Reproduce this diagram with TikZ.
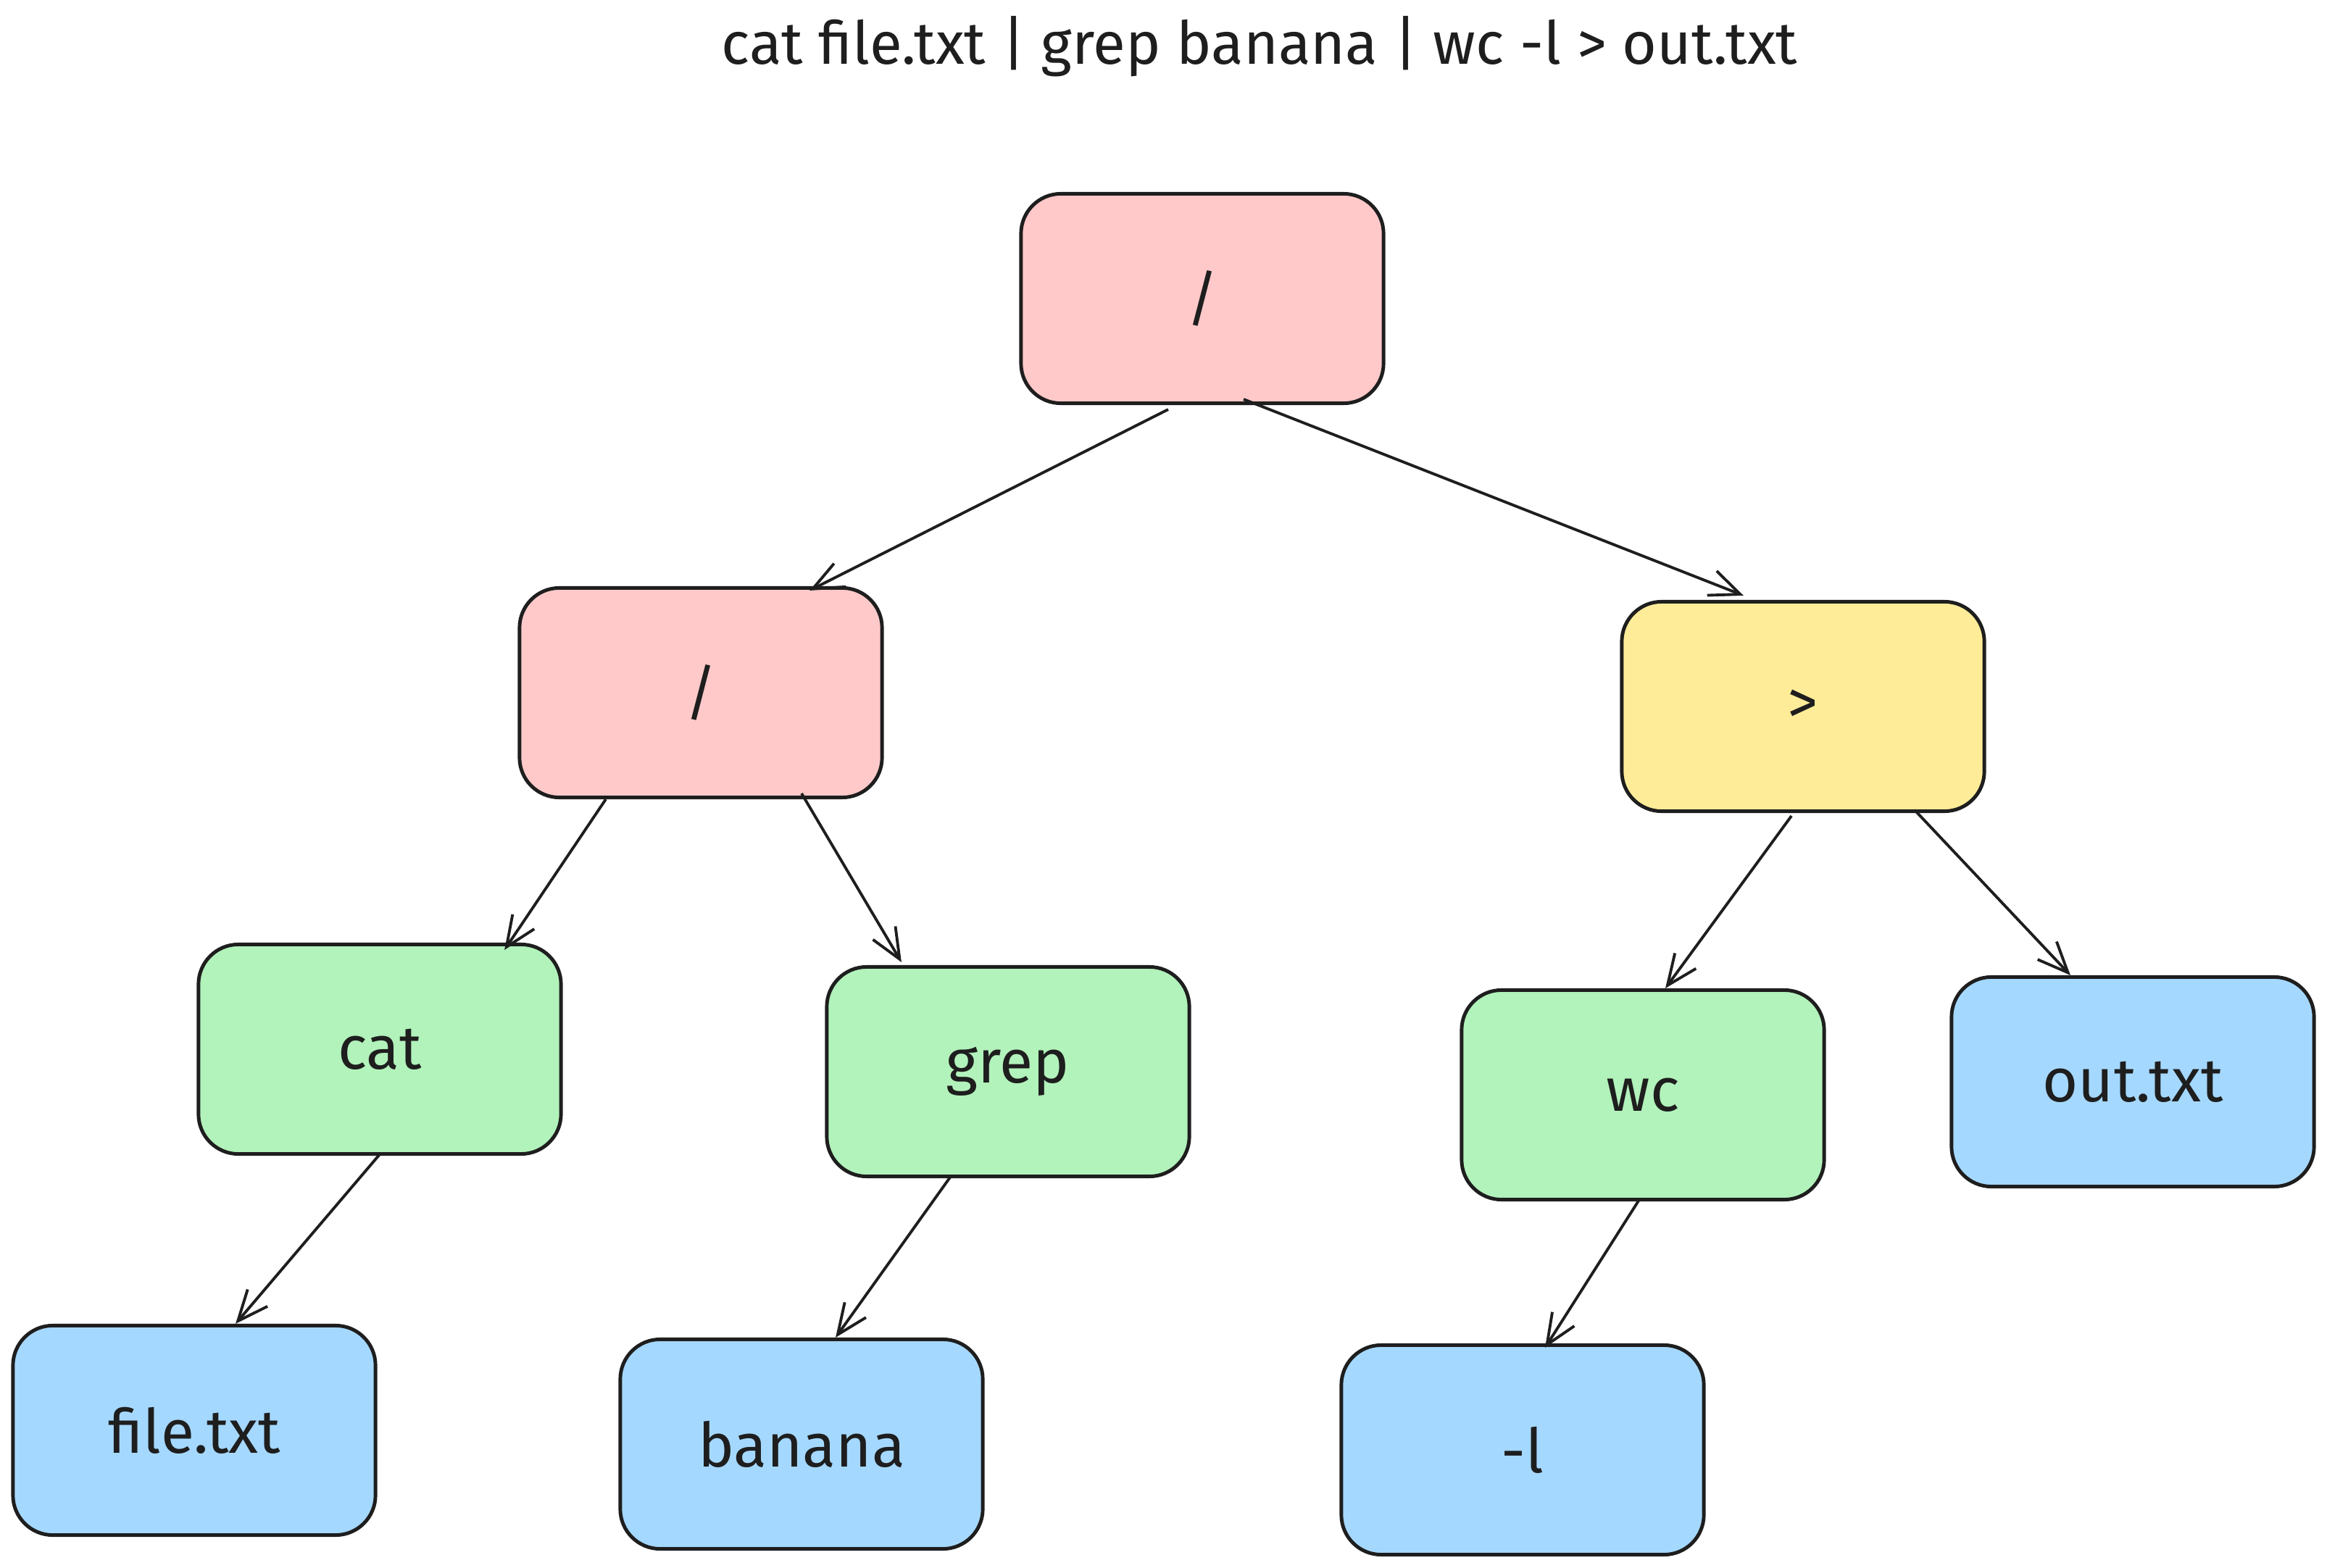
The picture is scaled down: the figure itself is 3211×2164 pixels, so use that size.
\documentclass[tikz,border=0pt]{standalone}
\usepackage{fontspec}
\setmainfont{Fira Sans}
\usetikzlibrary{arrows.meta}
\definecolor{strk}{HTML}{1E1E1E}
\definecolor{pinkf}{HTML}{FFC9C9}
\definecolor{yellf}{HTML}{FFEC99}
\definecolor{greenf}{HTML}{B2F2BB}
\definecolor{bluef}{HTML}{A5D8FF}
\tikzset{
  box/.style={draw=strk, line width=1.4pt, rounded corners=0.55cm,
    minimum width=5cm, minimum height=2.89cm, inner sep=0pt,
    font=\fontsize{24}{28}\selectfont, text=strk},
  opbox/.style={box, fill=pinkf},
  redbox/.style={box, fill=yellf},
  cmdbox/.style={box, fill=greenf},
  argbox/.style={box, fill=bluef},
  conn/.style={draw=strk, line width=1.1pt,
    -{Straight Barb[length=0.42cm, width=0.36cm, line width=1.1pt]}},
}
\begin{document}
\begin{tikzpicture}[x=0.01cm, y=-0.01cm]
\useasboundingbox (0,0) rectangle (3211,2164);
\node[font=\fontsize{23.3}{27}\selectfont, text=strk] (title) at (1738,64) {cat file.txt | grep banana | wc -l > out.txt};
\node[opbox] (root) at (1659,412) {/};
\node[opbox] (pipe) at (967,956) {/};
\node[redbox] (redir) at (2488,975) {>};
\node[cmdbox] (cat) at (524,1448) {cat};
\node[cmdbox] (grep) at (1391,1479) {grep};
\node[cmdbox] (wc) at (2267,1511) {wc};
\node[argbox] (out) at (2943,1493) {out.txt};
\node[argbox] (file) at (268,1974) {file.txt};
\node[argbox] (banana) at (1106,1993) {banana};
\node[argbox] (ell) at (2101,2001) {-l};
\draw[conn] ([xshift=-0.47cm,yshift=-0.06cm]root.south) -- ([xshift=1.5cm,yshift=-0.06cm]pipe.north);
\draw[conn] ([xshift=0.57cm,yshift=0.08cm]root.south) -- ([xshift=-0.82cm,yshift=0.06cm]redir.north);
\draw[conn] ([xshift=-1.31cm]pipe.south) -- ([xshift=1.72cm,yshift=-0.1cm]cat.north);
\draw[conn] ([xshift=1.39cm,yshift=0.08cm]pipe.south) -- ([xshift=-1.47cm,yshift=0.04cm]grep.north);
\draw[conn] ([xshift=-0.16cm,yshift=-0.04cm]redir.south) -- ([xshift=0.31cm]wc.north);
\draw[conn] ([xshift=1.54cm,yshift=0.04cm]redir.south) -- ([xshift=-0.86cm]out.north);
\draw[conn] ([yshift=0.02cm]cat.south) -- ([xshift=0.57cm]file.north);
\draw[conn] ([xshift=-0.78cm,yshift=0.04cm]grep.south) -- ([xshift=0.47cm]banana.north);
\draw[conn] ([xshift=-0.04cm,yshift=0.04cm]wc.south) -- ([xshift=0.31cm,yshift=-0.06cm]ell.north);
\end{tikzpicture}
\end{document}
